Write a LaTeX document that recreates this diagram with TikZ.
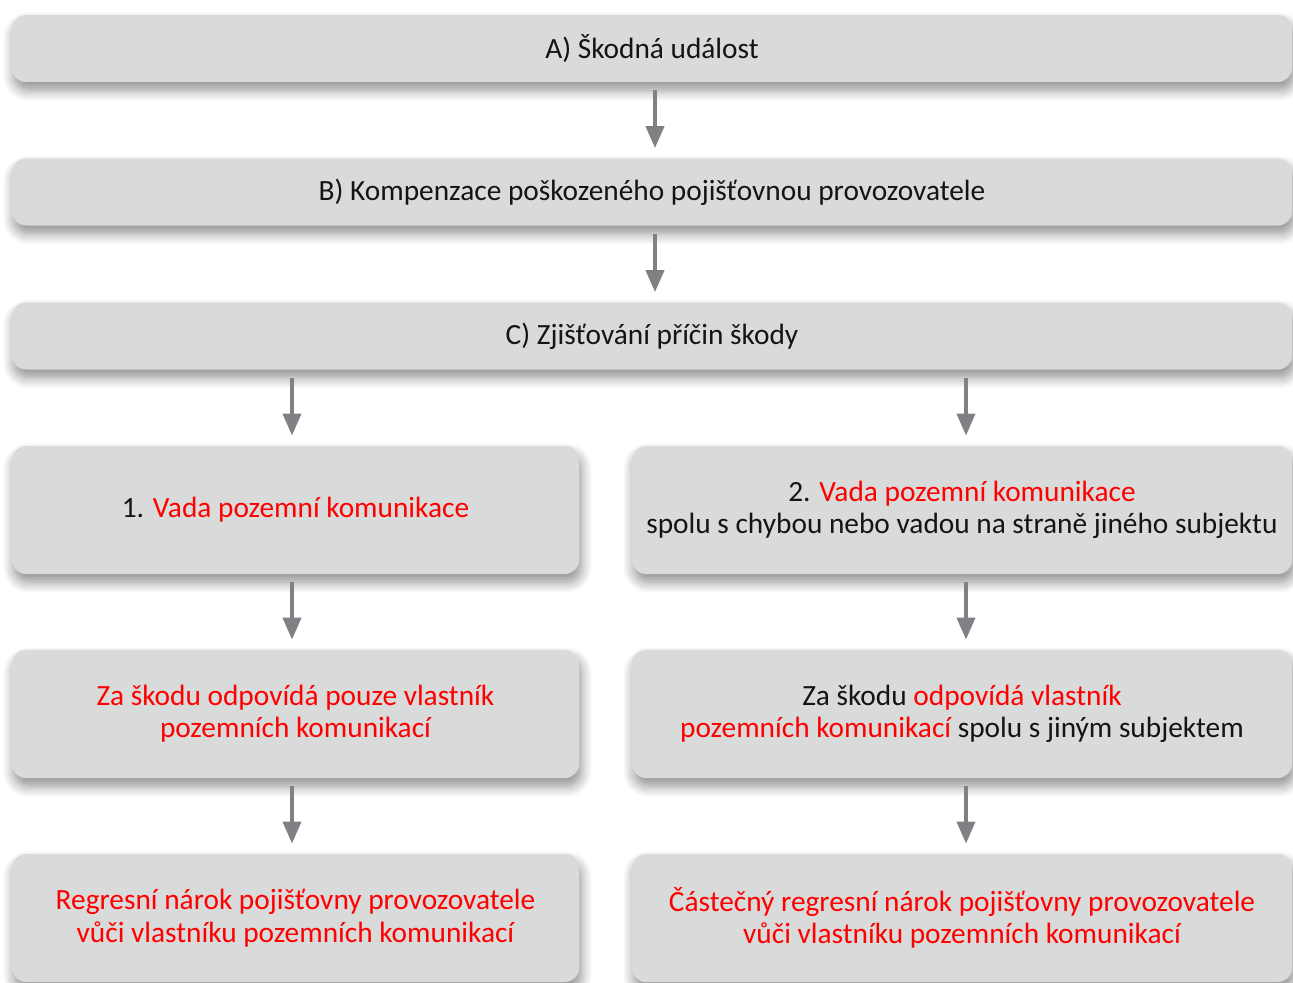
\documentclass[tikz,border=0pt]{standalone}
\usepackage{fontspec}
\setmainfont{Carlito}
\usetikzlibrary{arrows.meta,shadows.blur}
\definecolor{boxgray}{HTML}{D9DADA}
\definecolor{arrowgray}{HTML}{808184}
\definecolor{txtred}{HTML}{FF0000}
\newcommand{\hl}[1]{\textcolor{txtred}{#1}}
\begin{document}
\begin{tikzpicture}[
  box/.style={fill=boxgray,rounded corners=0.28cm,inner sep=0pt,align=center,
    font=\fontsize{16.7}{18.4}\selectfont,text=black!92,
    blur shadow={shadow xshift=0.04cm,shadow yshift=-0.16cm,shadow blur radius=0.22cm,
      shadow blur steps=10,shadow opacity=45}},
  widebox/.style={box,minimum width=25.6cm,minimum height=1.34cm},
  leftbox/.style={box,minimum width=11.34cm,minimum height=2.56cm},
  rightbox/.style={box,minimum width=13.2cm,minimum height=2.56cm},
  flow/.style={draw=arrowgray,line width=2.3pt,-{Triangle[width=0.36cm,length=0.44cm]},
    shorten <=0.16cm,shorten >=0.2cm}]
\useasboundingbox (0,0) rectangle (25.86,-19.66);
\clip (0,0) rectangle (25.86,-19.66);
% upper part
\node[widebox] (A) at (13.04,-0.97) {A) Škodná událost};
\node[widebox] (B) at (13.04,-3.84) {B) Kompenzace poškozeného pojišťovnou provozovatele};
\node[widebox] (C) at (13.04,-6.72) {C) Zjišťování příčin škody};
% left column
\node[leftbox] (L1) at (5.91,-10.20) {1. \hl{Vada pozemní komunikace}};
\node[leftbox] (L2) at (5.91,-14.28) {\hl{Za škodu odpovídá pouze vlastník}\\\hl{pozemních komunikací}};
\node[leftbox] (L3) at (5.91,-18.36) {\hl{Regresní nárok pojišťovny provozovatele}\\\hl{vůči vlastníku pozemních komunikací}};
% right column
\node[rightbox] (R1) at (19.24,-10.20) {2. \hl{Vada pozemní komunikace}\\spolu s chybou nebo vadou na straně jiného subjektu};
\node[rightbox] (R2) at (19.24,-14.28) {Za škodu \hl{odpovídá vlastník}\\\hl{pozemních komunikací} spolu s jiným subjektem};
\node[rightbox] (R3) at (19.24,-18.36) {\hl{Částečný regresní nárok pojišťovny provozovatele}\\\hl{vůči vlastníku pozemních komunikací}};
% arrows
\draw[flow] (A.south -| 13.1,0) -- (B.north -| 13.1,0);
\draw[flow] (B.south -| 13.1,0) -- (C.north -| 13.1,0);
\draw[flow] (C.south -| 5.84,0) -- (L1.north -| 5.84,0);
\draw[flow] (C.south -| 19.32,0) -- (R1.north -| 19.32,0);
\draw[flow] (L1.south -| 5.84,0) -- (L2.north -| 5.84,0);
\draw[flow] (L2.south -| 5.84,0) -- (L3.north -| 5.84,0);
\draw[flow] (R1.south -| 19.32,0) -- (R2.north -| 19.32,0);
\draw[flow] (R2.south -| 19.32,0) -- (R3.north -| 19.32,0);
\end{tikzpicture}
\end{document}
